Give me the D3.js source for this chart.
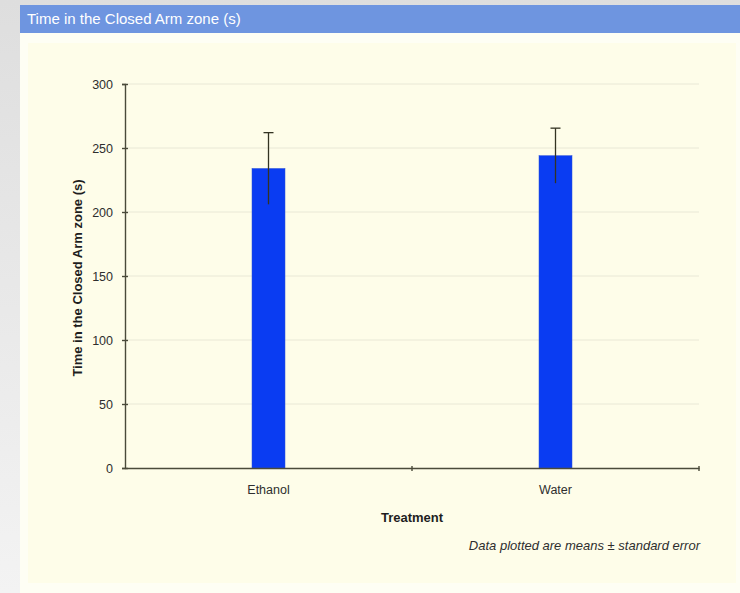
<!DOCTYPE html>
<html>
<head>
<meta charset="utf-8">
<script src="https://cdn.jsdelivr.net/npm/d3@7"></script>
<style>
  html, body { margin: 0; padding: 0; }
  body { width: 740px; height: 593px; overflow: hidden; }
  svg { display: block; }
</style>
</head>
<body>
<svg id="chart" width="740" height="593"></svg>
<script>
// Mean time in the closed arm per treatment group, with standard errors
const categories = ["Ethanol", "Water"];
const means = [234, 244];
const stdErrors = [28, 21.5];
const yTicks = [0, 50, 100, 150, 200, 250, 300];

const svg = d3.select("#chart");
const W = 740, H = 593;

// page background
const bg = svg.append("defs").append("linearGradient")
  .attr("id", "pageBg").attr("x1", 0).attr("y1", 0).attr("x2", 0).attr("y2", 1);
bg.append("stop").attr("offset", "0%").attr("stop-color", "#dedede");
bg.append("stop").attr("offset", "100%").attr("stop-color", "#f3f3f3");
svg.append("rect").attr("width", W).attr("height", H).attr("fill", "url(#pageBg)");

// panel
svg.append("rect").attr("x", 20).attr("y", 5).attr("width", 720).attr("height", 588).attr("fill", "#fefef4");
svg.append("rect").attr("x", 20).attr("y", 5).attr("width", 720).attr("height", 28).attr("fill", "#6e95e0");
svg.append("text").attr("x", 27).attr("y", 24)
  .attr("font-family", "Liberation Sans, Arial, sans-serif").attr("font-size", 15)
  .attr("fill", "#ffffff").text("Time in the Closed Arm zone (s)");

// chart area
svg.append("rect").attr("x", 28).attr("y", 43).attr("width", 708).attr("height", 540).attr("fill", "#fefde9");

const margin = { left: 125, right: 699, top: 84, bottom: 468 };
const x = d3.scaleBand().domain(categories).range([margin.left, margin.right]);
const y = d3.scaleLinear().domain([0, 300]).range([margin.bottom, margin.top]);

const font = "Liberation Sans, Arial, sans-serif";
const axisColor = "#4a4a3a";
const textColor = "#2e2e2e";

// gridlines
svg.append("g").selectAll("line").data(yTicks.filter(d => d > 0)).join("line")
  .attr("x1", margin.left).attr("x2", margin.right)
  .attr("y1", d => y(d)).attr("y2", d => y(d))
  .attr("stroke", "#e9e8d6").attr("stroke-width", 1);

// bars
const barW = 33;
svg.append("g").selectAll("rect").data(categories).join("rect")
  .attr("x", d => x(d) + x.bandwidth() / 2 - barW / 2)
  .attr("y", (d, i) => y(means[i]))
  .attr("width", barW)
  .attr("height", (d, i) => y(0) - y(means[i]))
  .attr("fill", "#0a3cf2")
  .attr("stroke", "#2a4fd8").attr("stroke-width", 0.5);

// error bars (whisker from mean - SE to mean + SE, cap on top)
const eb = svg.append("g");
categories.forEach((c, i) => {
  const cx = x(c) + x.bandwidth() / 2;
  eb.append("line").attr("x1", cx).attr("x2", cx)
    .attr("y1", y(means[i] + stdErrors[i])).attr("y2", y(means[i] - stdErrors[i]))
    .attr("stroke", "#333322").attr("stroke-width", 1.3);
  eb.append("line").attr("x1", cx - 5).attr("x2", cx + 5)
    .attr("y1", y(means[i] + stdErrors[i])).attr("y2", y(means[i] + stdErrors[i]))
    .attr("stroke", "#333322").attr("stroke-width", 1.3);
});

// y axis
const yAxis = svg.append("g").attr("transform", `translate(${margin.left},0)`)
  .call(d3.axisLeft(y).tickValues(yTicks).tickSize(3).tickPadding(9));
yAxis.select(".domain").attr("stroke", axisColor).attr("stroke-width", 1.4);
yAxis.selectAll(".tick line").attr("x2", -3).attr("x1", 3)
  .attr("stroke", axisColor).attr("stroke-width", 1.4);
yAxis.selectAll(".tick text").attr("font-family", font).attr("font-size", 12.5).attr("fill", textColor);

// x axis
const xAxis = svg.append("g").attr("transform", `translate(0,${margin.bottom})`)
  .call(d3.axisBottom(x).tickSize(0).tickPadding(17));
xAxis.select(".domain").attr("stroke", axisColor).attr("stroke-width", 1.5);
xAxis.selectAll(".tick text").attr("font-family", font).attr("font-size", 12.5).attr("fill", textColor);
// boundary tick marks between categories
const bounds = [x.range()[0] + x.bandwidth(), x.range()[1]];
xAxis.selectAll(".bound").data(bounds).join("line").attr("class", "bound")
  .attr("x1", d => d).attr("x2", d => d).attr("y1", -2).attr("y2", 3)
  .attr("stroke", axisColor).attr("stroke-width", 1.4);

// axis titles
svg.append("text").attr("transform", `translate(82,${(margin.top + margin.bottom) / 2 + 2}) rotate(-90)`)
  .attr("text-anchor", "middle").attr("font-family", font).attr("font-size", 13)
  .attr("font-weight", "bold").attr("fill", "#1e1e1e").text("Time in the Closed Arm zone (s)");
svg.append("text").attr("x", (margin.left + margin.right) / 2).attr("y", 522)
  .attr("text-anchor", "middle").attr("font-family", font).attr("font-size", 13)
  .attr("font-weight", "bold").attr("fill", "#1e1e1e").text("Treatment");

svg.append("text").attr("x", 700).attr("y", 550)
  .attr("text-anchor", "end").attr("font-family", font).attr("font-size", 13)
  .attr("font-style", "italic").attr("fill", textColor).text("Data plotted are means ± standard error");
</script>
</body>
</html>
